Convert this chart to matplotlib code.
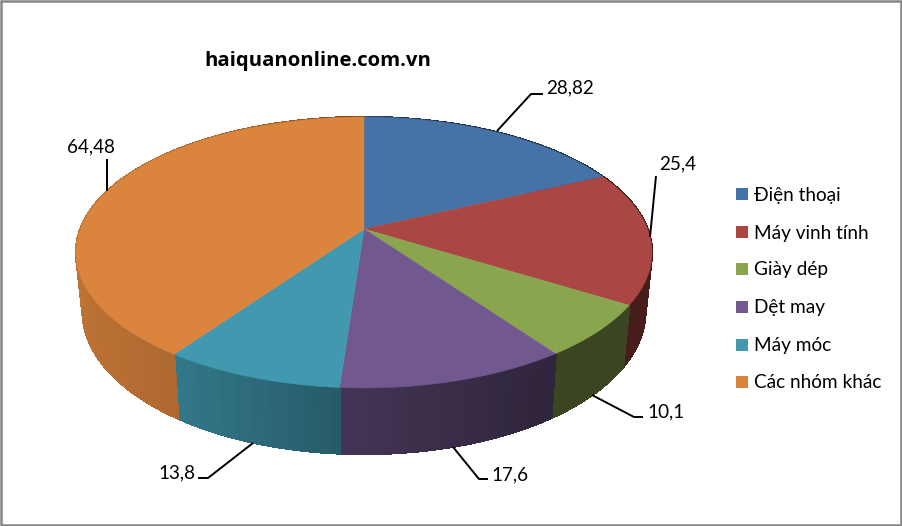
import numpy as np
import matplotlib
matplotlib.use("Agg")
import matplotlib.pyplot as plt
from matplotlib.patches import Polygon, Rectangle
from matplotlib.collections import PolyCollection
from matplotlib.colors import to_rgb

categories = ["Điện thoại", "Máy vinh tính", "Giày dép", "Dệt may", "Máy móc", "Các nhóm khác"]
values = [28.82, 25.4, 10.1, 17.6, 13.8, 64.48]
value_labels = ["28,82", "25,4", "10,1", "17,6", "13,8", "64,48"]
colors = ["#4572a7", "#aa4643", "#89a54e", "#71588f", "#4198af", "#db843d"]
title = "haiquanonline.com.vn"

# nhan so lieu: vi tri chu va duong dan
label_pos = [(570, 88), (678, 164), (666, 412), (510, 475), (177, 473), (91, 147)]
leaders = [
    [(497, 131), (531, 94), (543, 94)],
    [(650, 237), (656, 176)],
    [(592, 395), (634, 417), (643, 417)],
    [(453, 447), (479, 479), (488, 479)],
    [(253, 443), (208, 478), (198, 478)],
    [(107, 191), (107, 159)],
]
legend_y = [194, 232, 269, 307, 345, 382]

# phoi canh cua mat banh
CX, CY = 364, 229
A, B, K = 283.6, 131.4, 0.1735
SHADE_U = [-1, -0.6, -0.08, 0.55, 1]
SHADE_B = [0.87, 0.80, 0.60, 0.42, 0.42]

plt.rcParams["font.family"] = ["Lato", "Noto Sans", "DejaVu Sans"]


def top_rim(theta):
    u, v = np.sin(theta), np.cos(theta)
    d = 1 + K * v
    return CX + A * u / d, CY - B * v / d


def bottom_rim(theta):
    x, y = top_rim(theta)
    return CX + (x - CX) * 0.977, y + 57 - 9 * np.cos(theta)


fig = plt.figure(figsize=(9.03, 5.26), dpi=100)
ax = fig.add_axes([0, 0, 1, 1])
ax.set_xlim(0, 903)
ax.set_ylim(526, 0)
ax.axis("off")

ax.add_patch(Rectangle((1, 1), 900.5, 523.5, fill=False, edgecolor="#868686", linewidth=1.8))

edges = np.radians(np.concatenate([[0], np.cumsum(values)]) / np.sum(values) * 360)

# thanh ben: ve nen lien truoc de khong lo vach
for i, col in enumerate(colors):
    ts = np.linspace(edges[i], edges[i + 1], max(int((edges[i + 1] - edges[i]) * 40), 2))
    quads, face = [], []
    for t0, t1 in zip(ts[:-1], ts[1:]):
        quads.append([top_rim(t0), top_rim(t1), bottom_rim(t1), bottom_rim(t0)])
        shade = np.interp(np.sin((t0 + t1) / 2), SHADE_U, SHADE_B)
        face.append(tuple(c * shade for c in to_rgb(col)))
    ax.add_collection(PolyCollection(quads, facecolors=face, edgecolors=face, linewidths=1.0,
                                     antialiaseds=False))

# mat tren
for i, col in enumerate(colors):
    ts = np.linspace(edges[i], edges[i + 1], 200)
    xs, ys = top_rim(ts)
    pts = np.column_stack([np.r_[CX, xs], np.r_[CY, ys]])
    ax.add_patch(Polygon(pts, closed=True, facecolor=col, edgecolor=col, linewidth=0.3))

for path, pos, txt in zip(leaders, label_pos, value_labels):
    px, py = zip(*path)
    ax.plot(px, py, color="black", linewidth=1.4, solid_capstyle="butt")
    ax.text(pos[0], pos[1], txt, ha="center", va="center", fontsize=13.6, color="black")

for name, col, y in zip(categories, colors, legend_y):
    ax.add_patch(Rectangle((736, y - 6), 12, 12, facecolor=col, edgecolor="none"))
    ax.text(754, y + 1, name, ha="left", va="center", fontsize=13.7, color="black")

ax.text(318, 61, title, ha="center", va="center", fontsize=14.7, fontweight="bold",
        family=["Open Sans", "DejaVu Sans"], color="black")

fig.savefig("out.png", dpi=100)
